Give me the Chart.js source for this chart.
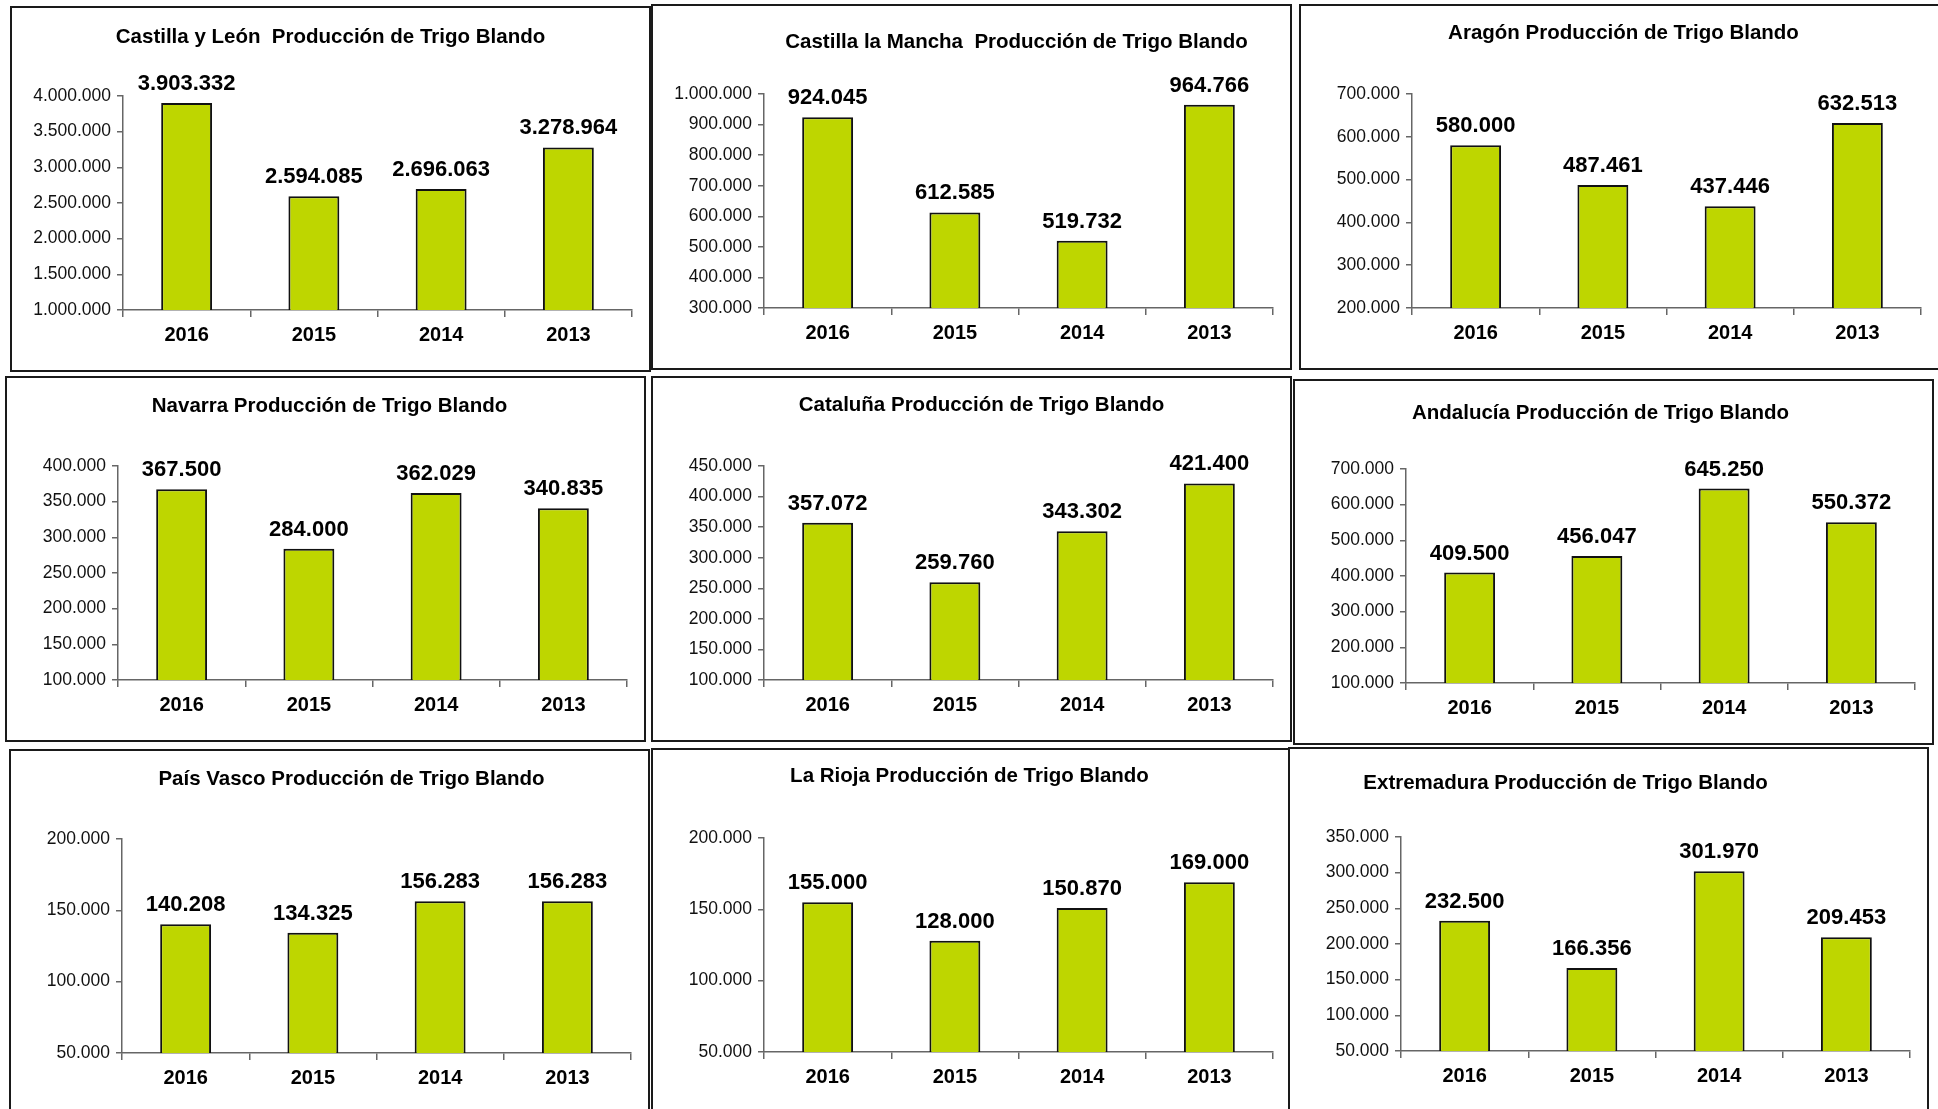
<!DOCTYPE html>
<html>
<head>
<meta charset="utf-8">
<script src="https://cdn.jsdelivr.net/npm/chart.js@4.4.0/dist/chart.umd.min.js"></script>
<style>
  body { margin: 0; background: #fff; width: 1938px; height: 1109px; overflow: hidden; position: relative; }
  .panel { position: absolute; width: 641px; height: 366px; box-sizing: border-box; border: 2px solid #1a1a1a; background: #fff; }
  .panel canvas { display: block; }
</style>
</head>
<body>
<script>
// categories
const years = ['2016', '2015', '2014', '2013'];

// series values, one per region
const castillaLeon = [3903332, 2594085, 2696063, 3278964];
const castillaMancha = [924045, 612585, 519732, 964766];
const aragon = [580000, 487461, 437446, 632513];
const navarra = [367500, 284000, 362029, 340835];
const cataluna = [357072, 259760, 343302, 421400];
const andalucia = [409500, 456047, 645250, 550372];
const paisVasco = [140208, 134325, 156283, 156283];
const laRioja = [155000, 128000, 150870, 169000];
const extremadura = [232500, 166356, 301970, 209453];

// titles
const titles = [
  'Castilla y León  Producción de Trigo Blando',
  'Castilla la Mancha  Producción de Trigo Blando',
  'Aragón Producción de Trigo Blando',
  'Navarra Producción de Trigo Blando',
  'Cataluña Producción de Trigo Blando',
  'Andalucía Producción de Trigo Blando',
  'País Vasco Producción de Trigo Blando',
  'La Rioja Producción de Trigo Blando',
  'Extremadura Producción de Trigo Blando'
];

// y axis ranges [min, max, step]
const yMin = [1000000, 300000, 200000, 100000, 100000, 100000, 50000, 50000, 50000];
const yMax = [4000000, 1000000, 700000, 400000, 450000, 700000, 200000, 200000, 350000];
const yStep = [500000, 100000, 100000, 50000, 50000, 100000, 50000, 50000, 50000];

const series = [castillaLeon, castillaMancha, aragon, navarra, cataluna, andalucia, paisVasco, laRioja, extremadura];

// panel placement: left, top, title x shift, title y
const boxes = [
  [10, 6, 0, 31], [651, 4, 45, 38], [1299, 4, 4, 29],
  [5, 376, 4, 30], [651, 376, 10, 29], [1293, 379, -13, 34],
  [9, 749, 22, 30], [651, 748, -2, 28], [1288, 747, -43, 36]
];

const FONT = '"Liberation Sans", Arial, sans-serif';
const BAR = '#bed600';
const AXIS = '#666';

function fmt(n) {
  return String(n).replace(/\B(?=(\d{3})+(?!\d))/g, '.');
}

const panelText = {
  id: 'panelText',
  afterDatasetsDraw(chart, args, opts) {
    const c = chart.ctx;
    c.save();
    c.fillStyle = '#000';
    c.font = 'bold 20.5px ' + FONT;
    c.textAlign = 'center';
    c.textBaseline = 'middle';
    c.fillText(opts.title, chart.width / 2 + opts.dx, opts.ty);
    c.font = 'bold 22px ' + FONT;
    c.textBaseline = 'alphabetic';
    chart.getDatasetMeta(0).data.forEach((bar, i) => {
      c.fillText(fmt(chart.data.datasets[0].data[i]), bar.x, bar.y - 13);
    });
    c.restore();
  }
};

series.forEach((vals, k) => {
  const b = boxes[k];
  const div = document.createElement('div');
  div.className = 'panel';
  div.style.left = b[0] + 'px';
  div.style.top = b[1] + 'px';
  const cv = document.createElement('canvas');
  cv.width = 637; cv.height = 362;
  div.appendChild(cv);
  document.body.appendChild(div);

  new Chart(cv.getContext('2d'), {
    type: 'bar',
    data: {
      labels: years,
      datasets: [{
        data: vals,
        backgroundColor: BAR,
        borderColor: '#111',
        borderWidth: 2,
        barPercentage: 0.4,
        categoryPercentage: 1
      }]
    },
    plugins: [panelText],
    options: {
      responsive: false,
      animation: false,
      devicePixelRatio: 1,
      layout: { padding: { top: 88, right: 17, left: 0, bottom: 0 } },
      plugins: {
        legend: { display: false },
        tooltip: { enabled: false },
        panelText: { title: titles[k], dx: b[2], ty: b[3] - 2 }
      },
      scales: {
        x: {
          afterFit: s => { s.height = 60; },
          grid: { offset: true, drawOnChartArea: false, drawTicks: true, tickLength: 7, color: AXIS, lineWidth: 1.5 },
          border: { display: true, color: AXIS, width: 1.5 },
          ticks: { color: '#000', padding: 6, font: { family: FONT, size: 20, weight: 'bold' } }
        },
        y: {
          min: yMin[k],
          max: yMax[k],
          afterFit: s => { s.width = 111; },
          grid: { drawOnChartArea: false, drawTicks: true, tickLength: 6, color: AXIS, lineWidth: 1.5 },
          border: { display: true, color: AXIS, width: 1.5 },
          ticks: {
            stepSize: yStep[k],
            color: '#111',
            padding: 6,
            font: { family: FONT, size: 17.5 },
            callback: v => fmt(v)
          }
        }
      }
    }
  });
});
</script>
</body>
</html>
